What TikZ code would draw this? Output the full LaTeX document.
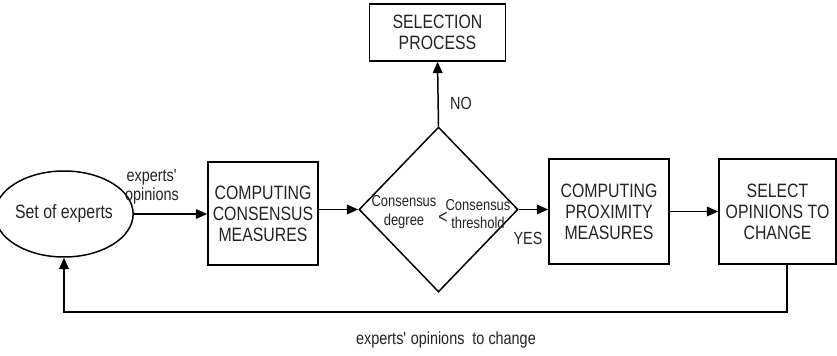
\documentclass[tikz,border=0pt]{standalone}
\usepackage{fontspec}
\setmainfont{Liberation Sans}[FakeStretch=0.82]
\usetikzlibrary{arrows.meta,shapes.geometric}
\definecolor{flowText}{RGB}{35, 35, 35}

\begin{document}
\begin{tikzpicture}[
  >={Triangle[length=6.5pt,width=5.5pt]},
  line width=0.85pt,
  block/.style={
    draw,
    minimum height=2.08cm,
    inner sep=0pt,
    align=center,
    text=flowText,
    font=\fontsize{11}{12}\selectfont
  },
  tag/.style={
    align=center,
    inner sep=0pt,
    text=flowText,
    font=\fontsize{10}{10.5}\selectfont
  },
  cond/.style={
    align=center,
    inner sep=0pt,
    text=flowText,
    font=\fontsize{9}{10.5}\selectfont
  }
]
  \useasboundingbox (0,0) rectangle (16.74,7.1);
  \node[draw,ellipse,minimum width=2.36cm,minimum height=1.72cm,inner sep=0pt,
    text=flowText,font=\fontsize{11}{12}\selectfont] (experts) at (1.28,2.82)
    {Set of experts};
  \node[block,minimum width=2.2cm,minimum height=2.06cm] (consensus) at (5.26,2.83)
    {COMPUTING\\CONSENSUS\\MEASURES};
  \node[draw,diamond,minimum width=3.18cm,minimum height=3.3cm,inner sep=0pt]
    (check) at (8.77,2.91) {};
  \node[cond] (degree) at (8.08,2.86) {Consensus\\degree};
  \node[cond,font=\fontsize{11}{12}\selectfont] (less) at (8.86,2.74) {<};
  \node[cond] (threshold) at (9.56,2.82) {Consensus\\threshold};
  \node[block,minimum width=2.72cm,minimum height=1.14cm] (selection) at (8.75,6.45)
    {SELECTION\\PROCESS};
  \node[block,minimum width=2.4cm,minimum height=2.1cm] (proximity) at (12.18,2.87)
    {COMPUTING\\PROXIMITY\\MEASURES};
  \node[block,minimum width=2.34cm,minimum height=2.1cm] (change) at (15.55,2.87)
    {SELECT\\OPINIONS TO\\CHANGE};

  \node[tag] (opinions) at (3.04,3.36) {experts\textquotesingle\\opinions};
  \node[tag] (yes) at (10.56,2.34) {YES};
  \node[tag] (no) at (9.22,5.04) {NO};
  \node[tag] (feedback) at (8.92,0.30) {experts\textquotesingle{} opinions\ \ to change};

  \coordinate (turn) at (15.74,0.86);

  \draw[->] (experts.east) -- (experts.east -| consensus.west);
  \draw[->] (consensus.east |- check.west) -- (check.west);
  \draw[->] (check.north) -- (selection.south);
  \draw[->] (check.east) -- (check.east -| proximity.west);
  \draw[->] (proximity.east) -- (change.west);
  \draw[->] (turn |- change.south) -- (turn) -| (experts.south);
\end{tikzpicture}
\end{document}
